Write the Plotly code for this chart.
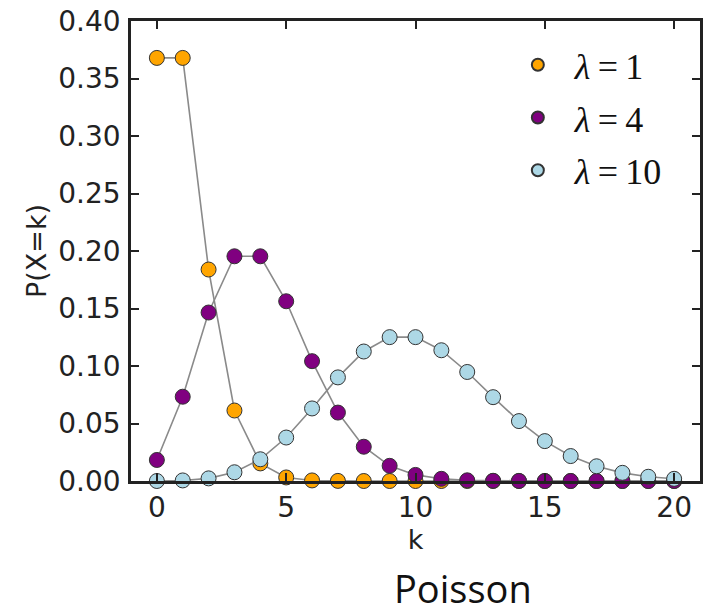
import plotly.graph_objects as go

k = list(range(21))
p_lam1 = [0.3679, 0.3679, 0.1839, 0.0613, 0.0153, 0.0031, 0.0005, 0.0001, 0.0000, 0.0000,
          0.0000, 0.0000, 0.0000, 0.0000, 0.0000, 0.0000, 0.0000, 0.0000, 0.0000, 0.0000, 0.0000]
p_lam4 = [0.0183, 0.0733, 0.1465, 0.1954, 0.1954, 0.1563, 0.1042, 0.0595, 0.0298, 0.0132,
          0.0053, 0.0019, 0.0006, 0.0002, 0.0001, 0.0000, 0.0000, 0.0000, 0.0000, 0.0000, 0.0000]
p_lam10 = [0.0000, 0.0005, 0.0023, 0.0076, 0.0189, 0.0378, 0.0631, 0.0901, 0.1126, 0.1251,
           0.1251, 0.1137, 0.0948, 0.0729, 0.0521, 0.0347, 0.0217, 0.0128, 0.0071, 0.0037, 0.0019]

series = [
    ("<i>λ</i>\u2009=\u20091", p_lam1, "#FFA500"),
    ("<i>λ</i>\u2009=\u20094", p_lam4, "#800080"),
    ("<i>λ</i>\u2009=\u200910", p_lam10, "#ADD8E6"),
]
x_ticks = [0, 5, 10, 15, 20]
y_ticks = [0.00, 0.05, 0.10, 0.15, 0.20, 0.25, 0.30, 0.35, 0.40]

fig = go.Figure()
for i, (name, vals, color) in enumerate(series):
    fig.add_trace(go.Scatter(x=k, y=vals, mode="lines", showlegend=False,
                             line=dict(color="#8a8a8a", width=1.6), hoverinfo="skip",
                             cliponaxis=False))
    fig.add_trace(go.Scatter(x=k, y=vals, mode="markers", name=name, legendgroup=f"g{i}",
                             marker=dict(color=color, size=15,
                                         line=dict(color="#333333", width=1)),
                             cliponaxis=False))

axis_common = dict(showline=True, linecolor="#222222", linewidth=2.5, mirror="allticks",
                   ticks="inside", ticklen=8, tickwidth=1.5, tickcolor="#222222",
                   showgrid=False, zeroline=False, automargin=False,
                   tickfont=dict(family="DejaVu Sans", size=28, color="#222222"))

fig.update_layout(
    width=705, height=615,
    margin=dict(l=131, r=5, t=21, b=134),
    paper_bgcolor="white", plot_bgcolor="white",
    xaxis=dict(range=[-1, 21], tickvals=x_ticks, ticktext=[str(t) for t in x_ticks],
               ticklabelstandoff=0,
               title=dict(text="k", font=dict(family="DejaVu Sans", size=27, color="#222222"),
                          standoff=2),
               **axis_common),
    yaxis=dict(range=[0, 0.4], tickvals=y_ticks, ticktext=[f"{t:.2f}" for t in y_ticks],
               ticklabelstandoff=2,
               title=dict(text="P(X=k)", font=dict(family="DejaVu Sans", size=27, color="#222222"),
                          standoff=4),
               **axis_common),
    legend=dict(x=0.650, y=0.97, xanchor="left", yanchor="top",
                font=dict(family="Liberation Serif", size=36, color="#111111"),
                bgcolor="rgba(0,0,0,0)", traceorder="grouped", tracegroupgap=3,
                itemsizing="constant", itemwidth=64),
    annotations=[dict(text="Poisson", xref="paper", yref="paper", x=0.583, y=-0.2915,
                      xanchor="center", yanchor="bottom", showarrow=False, borderpad=0,
                      font=dict(family="Open Sans", size=38, color="#111111"))],
)

fig.write_html("out.html", config={"displayModeBar": False},
               post_script="document.body.style.margin='0px';document.body.style.overflow='hidden';")
